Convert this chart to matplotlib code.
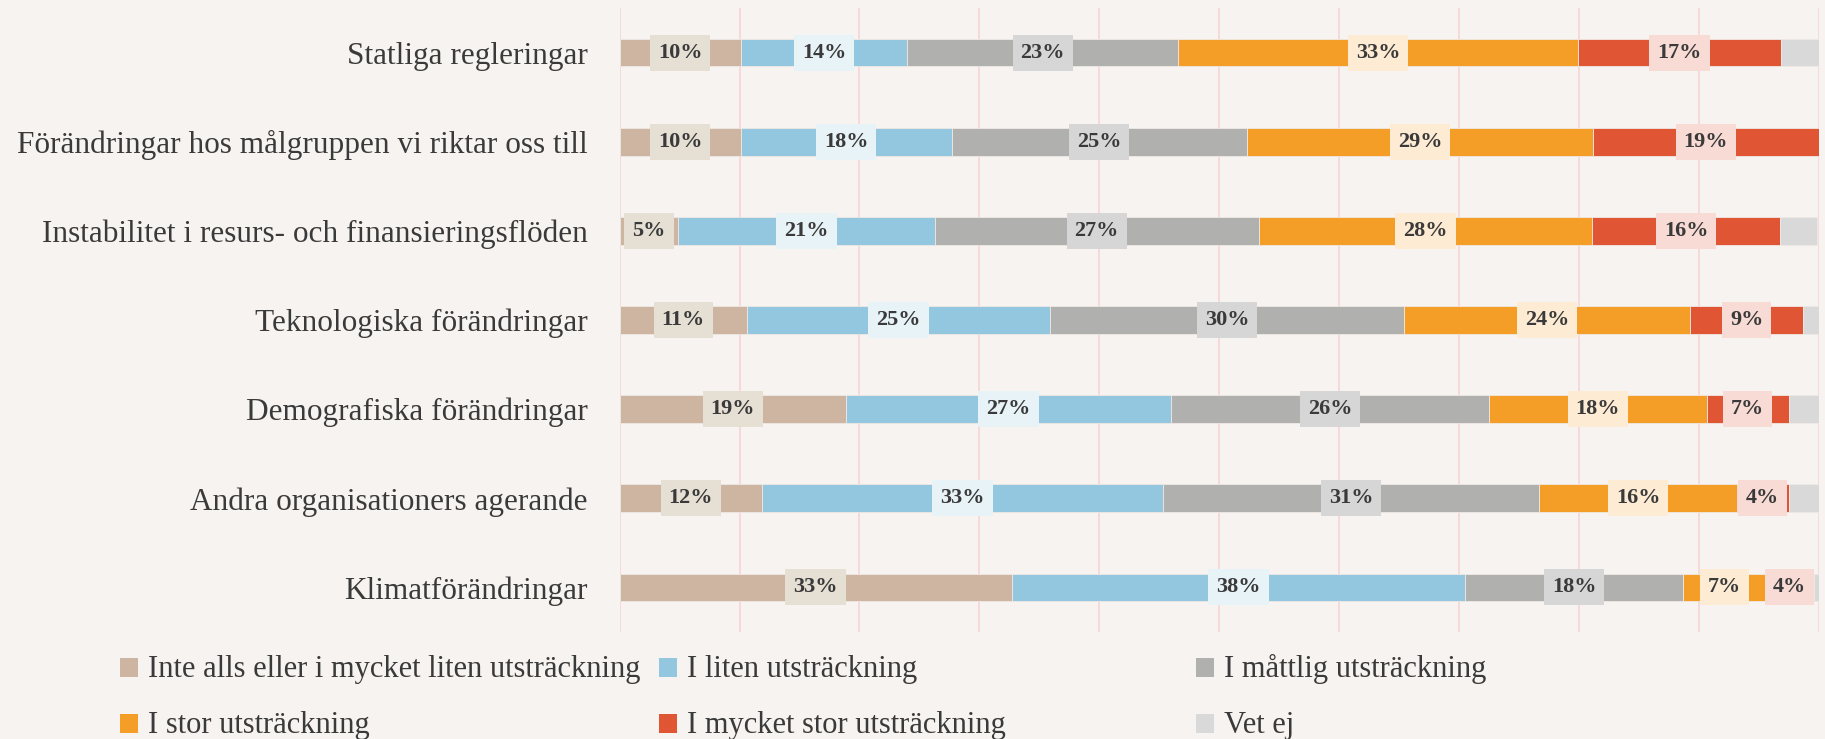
import matplotlib
matplotlib.use('Agg')
import matplotlib.pyplot as plt
from matplotlib.patches import Rectangle

# ── Data ──────────────────────────────────────────────────────────────────────
categories = [
    'Statliga regleringar',
    'Förändringar hos målgruppen vi riktar oss till',
    'Instabilitet i resurs- och finansieringsflöden',
    'Teknologiska förändringar',
    'Demografiska förändringar',
    'Andra organisationers agerande',
    'Klimatförändringar',
]
series_names = [
    'Inte alls eller i mycket liten utsträckning',
    'I liten utsträckning',
    'I måttlig utsträckning',
    'I stor utsträckning',
    'I mycket stor utsträckning',
    'Vet ej',
]
inte_alls   = [10.1, 10.1,  4.9, 10.6, 18.9, 11.9, 32.7]
liten       = [13.9, 17.6, 21.4, 25.3, 27.1, 33.4, 37.8]
mattlig     = [22.6, 24.6, 27.0, 29.5, 26.5, 31.4, 18.2]
stor        = [33.3, 28.9, 27.8, 23.9, 18.2, 16.5,  6.9]
mycket_stor = [17.0, 18.8, 15.7,  9.4,  6.8,  4.3,  4.0]
vet_ej      = [ 3.1,  0.0,  3.1,  1.3,  2.5,  2.5,  0.5]
series = [inte_alls, liten, mattlig, stor, mycket_stor, vet_ej]

colors     = ['#CDB5A2', '#93C6DF', '#B0B0AE', '#F59E27', '#E05634', '#D9D9D9']
box_colors = ['#E5DFD4', '#E8F3F8', '#D6D6D6', '#FDEBD3', '#F9DBD5', None]
bg = '#F7F3F0'
txt = '#3A3A3A'

plt.rcParams['font.family'] = ['Liberation Serif', 'DejaVu Serif']

fig = plt.figure(figsize=(18.25, 7.39), dpi=100, facecolor=bg)
ax = fig.add_axes([619.6 / 1825, 1 - 632 / 739, 1199 / 1825, 624 / 739])
ax.set_facecolor(bg)

ypos = list(range(len(categories)))
left = [0.0] * len(categories)
for vals, col, bcol in zip(series, colors, box_colors):
    ax.barh(ypos, vals, left=left, height=0.31, color=col,
            edgecolor='#EFE9E4', linewidth=0.6, zorder=2)
    if bcol is not None:
        for y, l, v in zip(ypos, left, vals):
            if v >= 1:
                ax.text(l + v / 2, y, f'{round(v):d}%', ha='center', va='center',
                        fontsize=16, fontweight='bold', color=txt, zorder=3,
                        bbox=dict(boxstyle='square,pad=0.36', fc=bcol, ec='none'))
    left = [a + b for a, b in zip(left, vals)]

ax.set_xlim(0, 100)
ax.set_ylim(6.5, -0.5)
ax.set_xticks(range(0, 101, 10))
ax.set_xticklabels([])
ax.grid(axis='x', color='#F6DADA', linewidth=1.4, zorder=0)
ax.set_axisbelow(True)
ax.set_yticks(ypos)
ax.set_yticklabels(categories, fontsize=22.5, color=txt)
ax.tick_params(axis='both', length=0)
ax.tick_params(axis='y', pad=23)
for s in ax.spines.values():
    s.set_visible(False)

# ── Legend (fixed 3-column grid) ─────────────────────────────────────────────
col_x = [120, 659, 1196]
row_base = [677, 733]
for i, (name, col) in enumerate(zip(series_names, colors)):
    r, c = divmod(i, 3)
    x0 = col_x[c]
    yb = row_base[r]
    fig.patches.append(Rectangle((x0 / 1825, 1 - yb / 739), 18 / 1825, 19 / 739,
                                 transform=fig.transFigure, fc=col, ec='none'))
    fig.text((x0 + 28) / 1825, 1 - yb / 739, name, fontsize=22, color=txt,
             ha='left', va='baseline')

fig.savefig('out.png', dpi=100, facecolor=bg)
